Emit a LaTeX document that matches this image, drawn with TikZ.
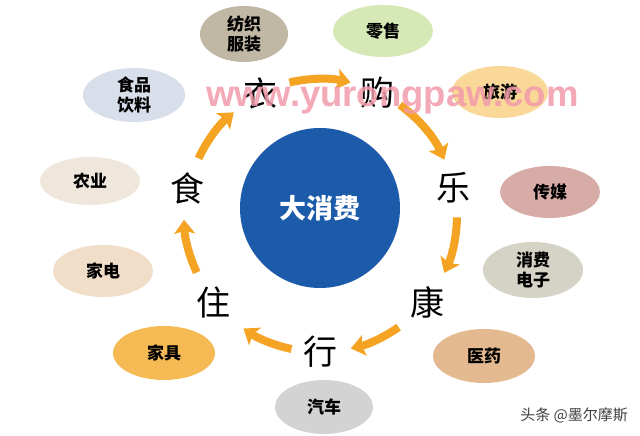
\documentclass[tikz,border=0pt]{standalone}
\usepackage{fontspec}
\setmainfont{Liberation Sans}
\newfontfamily\cjk{Noto Sans CJK SC}
\usetikzlibrary{arrows.meta,shapes.geometric}
\definecolor{arrowc}{HTML}{F4A322}
\definecolor{hubc}{HTML}{1C5BAA}
\definecolor{wmc}{HTML}{F29AAA}
\definecolor{cfz}{HTML}{C0B8A5}
\definecolor{cls}{HTML}{D5E8B5}
\definecolor{cly}{HTML}{F9D898}
\definecolor{ccm}{HTML}{D7ABA6}
\definecolor{cxd}{HTML}{D5D3C5}
\definecolor{cyy}{HTML}{E5B98F}
\definecolor{cqc}{HTML}{D3D3D3}
\definecolor{cjj}{HTML}{F6BA55}
\definecolor{csp}{HTML}{D8DEEA}
\definecolor{cny}{HTML}{EFE7DC}
\definecolor{cjd}{HTML}{F1DEC8}
\begin{document}
\begin{tikzpicture}[x=1pt,y=1pt,
  sector/.style={ellipse, draw=none, inner sep=0pt, minimum width=100pt, minimum height=52pt,
    align=center, font=\cjk\bfseries\fontsize{17}{20}\selectfont, text=black},
  ringchar/.style={inner sep=0pt, font=\cjk\fontsize{34}{34}\selectfont, text=black},
  arr/.style={draw=arrowc, line width=8pt, -{Stealth[length=14pt,width=21pt,inset=3pt]}}
]
\useasboundingbox (0,0) rectangle (640,436);
\fill[white] (0,0) rectangle (640,436);

% hub
\node[circle, fill=hubc, minimum size=160pt, inner sep=0pt, text=white,
  font=\cjk\bfseries\fontsize{27}{27}\selectfont] (hub) at (320,228) {大消费};
\coordinate (ring) at (320,221);

% ring characters
\node[ringchar] (yi) at (260,343) {衣};
\node[ringchar] (gou) at (377,343) {购};
\node[ringchar] (le) at (453,248) {乐};
\node[ringchar] (kang) at (427,134) {康};
\node[ringchar] (xing) at (320,84) {行};
\node[ringchar] (zhu) at (213,134) {住};
\node[ringchar] (shi) at (187,248) {食};

% arrows along the ring
\draw[arr] ([shift={(103:136)}]ring) arc[start angle=103,end angle=77,radius=136];
\draw[arr] ([shift={(54:136)}]ring) arc[start angle=54,end angle=24,radius=136];
\draw[arr] ([shift={(-1:137)}]ring) arc[start angle=-1,end angle=-25,radius=137];
\draw[arr] ([shift={(-55:137)}]ring) arc[start angle=-55,end angle=-77,radius=137];
\draw[arr] ([shift={(258:137)}]ring) arc[start angle=258,end angle=236,radius=137];
\draw[arr] ([shift={(205:136)}]ring) arc[start angle=205,end angle=182,radius=136];
\draw[arr] ([shift={(155:134)}]ring) arc[start angle=155,end angle=130,radius=134];

% sector ellipses
\node[sector, fill=cfz, minimum width=88pt, minimum height=56pt] (fz) at (244,402) {纺织\\服装};
\node[sector, fill=cls] (ls) at (383,405) {零售};
\node[sector, fill=cly, minimum width=96pt] (ly) at (500,344) {旅游};
\node[sector, fill=ccm] (cm) at (550,244) {传媒};
\node[sector, fill=cxd, minimum height=56pt] (xd) at (533,166) {消费\\电子};
\node[sector, fill=cyy, minimum width=102pt, minimum height=54pt] (yy) at (484,80) {医药};
\node[sector, fill=cqc, minimum width=98pt, minimum height=54pt] (qc) at (324,29) {汽车};
\node[sector, fill=cjj, minimum width=102pt, minimum height=54pt] (jj) at (164,83) {家具};
\node[sector, fill=csp, minimum width=102pt, minimum height=54pt] (sp) at (134,341) {食品\\饮料};
\node[sector, fill=cny, minimum height=48pt] (ny) at (90,255) {农业};
\node[sector, fill=cjd] (jd) at (103,165) {家电};

% watermark
\node[anchor=base west, inner sep=0pt, text=wmc, text opacity=0.85,
  font=\bfseries\fontsize{36.5}{36.5}\selectfont] (wm) at (206,329) {www.yurongpaw.com};

% credit
\node[anchor=east, inner sep=0pt, text=black!75,
  font=\cjk\fontsize{15}{15}\selectfont] (cr) at (628,21) {头条 @墨尔摩斯};
\end{tikzpicture}
\end{document}
